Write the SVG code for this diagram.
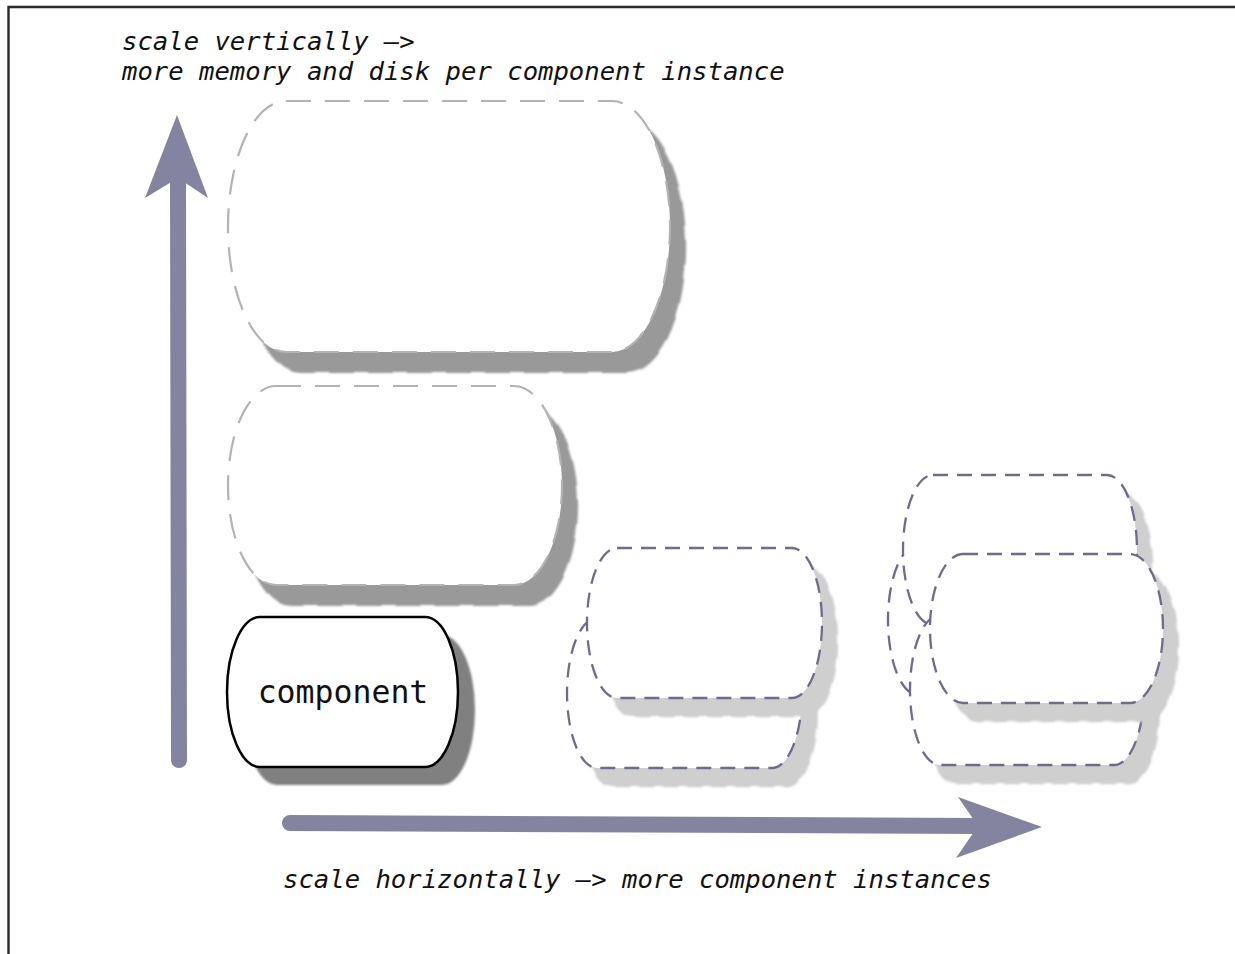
<svg xmlns="http://www.w3.org/2000/svg" width="1235" height="954" viewBox="0 0 1235 954">
  <defs>
    <filter id="soft" x="-10%" y="-10%" width="120%" height="120%">
      <feGaussianBlur stdDeviation="0.9"/>
    </filter>
  </defs>
  <style>
    .lbl { font-family: "DejaVu Sans Mono", "Liberation Mono", monospace; font-size: 25.6px; font-style: italic; fill: #111; }
    .nodelbl { font-family: "DejaVu Sans Mono", "Liberation Mono", monospace; font-size: 31.5px; fill: #111; }
    .gray { fill: #fff; stroke: #b3b3b3; stroke-width: 2.2; stroke-dasharray: 25 14; }
    .gray-sh { fill: #999; stroke: #999; stroke-width: 2.2; stroke-dasharray: 25 14; filter: url(#soft); }
    .inst { fill: #fff; stroke: #6c6c8c; stroke-width: 2.3; stroke-dasharray: 15 9; }
    .inst-sh { fill: #cfcfcf; stroke: #cfcfcf; stroke-width: 2.3; stroke-dasharray: 15 9; filter: url(#soft); }
    .comp { fill: #fff; stroke: #000; stroke-width: 2.5; }
    .comp-sh { fill: #808080; filter: url(#soft); }
    .axis { stroke: #8484a0; stroke-width: 16; stroke-linecap: round; fill: none; }
    .axis-head { fill: #8484a0; }
    .frame { stroke: #2a2a2a; stroke-width: 2.4; fill: none; }
  </style>

  <rect x="0" y="0" width="1235" height="954" fill="#fff"/>
  <path class="frame" d="M8.5,954 V7 H1235"/>

  <g id="label-vertical">
    <text class="lbl" x="122" y="50">scale vertically –&gt;</text>
    <text class="lbl" x="122" y="80">more memory and disk per component instance</text>
  </g>
  <g id="label-horizontal">
    <text class="lbl" x="283" y="888">scale horizontally –&gt; more component instances</text>
  </g>

  <g id="connectors">
    <g id="axis-vertical">
      <line class="axis" x1="179" y1="760" x2="178" y2="182"/>
      <polygon class="axis-head" points="177,115 208,198 178,178 145,198"/>
    </g>
    <g id="axis-horizontal">
      <line class="axis" x1="290" y1="823" x2="980" y2="826"/>
      <polygon class="axis-head" points="1042,827 958,797 978,826 956,858"/>
    </g>
  </g>

  <g id="node-vertical-large">
    <path class="gray-sh" transform="translate(15,20)" d="M286,101 H612 A58,125.5 0 0 1 612,352 H286 A58,125.5 0 0 1 286,101 Z"/>
    <path class="gray" d="M286,101 H612 A58,125.5 0 0 1 612,352 H286 A58,125.5 0 0 1 286,101 Z"/>
  </g>

  <g id="node-vertical-medium">
    <path class="gray-sh" transform="translate(15,20)" d="M276,386 H514 A48,99.5 0 0 1 514,585 H276 A48,99.5 0 0 1 276,386 Z"/>
    <path class="gray" d="M276,386 H514 A48,99.5 0 0 1 514,585 H276 A48,99.5 0 0 1 276,386 Z"/>
  </g>

  <g id="node-component">
    <path class="comp-sh" transform="translate(17,18)" d="M260,617 H425 A33,75 0 0 1 425,767 H260 A33,75 0 0 1 260,617 Z"/>
    <path class="comp" d="M260,617 H425 A33,75 0 0 1 425,767 H260 A33,75 0 0 1 260,617 Z"/>
    <text class="nodelbl" x="343" y="703" text-anchor="middle">component</text>
  </g>

  <g id="node-horizontal-2">
    <g id="instance-2b">
      <path class="inst-sh" transform="translate(15,18)" d="M597,618 H772 A30,75 0 0 1 772,768 H597 A30,75 0 0 1 597,618 Z"/>
      <path class="inst" d="M597,618 H772 A30,75 0 0 1 772,768 H597 A30,75 0 0 1 597,618 Z"/>
    </g>
    <g id="instance-2a">
      <path class="inst-sh" transform="translate(15,18)" d="M617,548 H792 A30,75 0 0 1 792,698 H617 A30,75 0 0 1 617,548 Z"/>
      <path class="inst" d="M617,548 H792 A30,75 0 0 1 792,698 H617 A30,75 0 0 1 617,548 Z"/>
    </g>
  </g>

  <g id="node-horizontal-4">
    <g id="instance-4l">
      <path class="inst-sh" transform="translate(15,18)" d="M918,545 H1092 A30,75 0 0 1 1092,695 H918 A30,75 0 0 1 918,545 Z"/>
      <path class="inst" d="M918,545 H1092 A30,75 0 0 1 1092,695 H918 A30,75 0 0 1 918,545 Z"/>
    </g>
    <g id="instance-4t">
      <path class="inst-sh" transform="translate(15,18)" d="M933,475 H1107 A30,75 0 0 1 1107,625 H933 A30,75 0 0 1 933,475 Z"/>
      <path class="inst" d="M933,475 H1107 A30,75 0 0 1 1107,625 H933 A30,75 0 0 1 933,475 Z"/>
    </g>
    <g id="instance-4b">
      <path class="inst-sh" transform="translate(15,18)" d="M940,615 H1114 A30,75 0 0 1 1114,765 H940 A30,75 0 0 1 940,615 Z"/>
      <path class="inst" d="M940,615 H1114 A30,75 0 0 1 1114,765 H940 A30,75 0 0 1 940,615 Z"/>
    </g>
    <g id="instance-4f">
      <path class="inst-sh" transform="translate(15,18)" d="M963,554 H1130 A33,74.5 0 0 1 1130,703 H963 A33,74.5 0 0 1 963,554 Z"/>
      <path class="inst" d="M963,554 H1130 A33,74.5 0 0 1 1130,703 H963 A33,74.5 0 0 1 963,554 Z"/>
    </g>
  </g>
</svg>
